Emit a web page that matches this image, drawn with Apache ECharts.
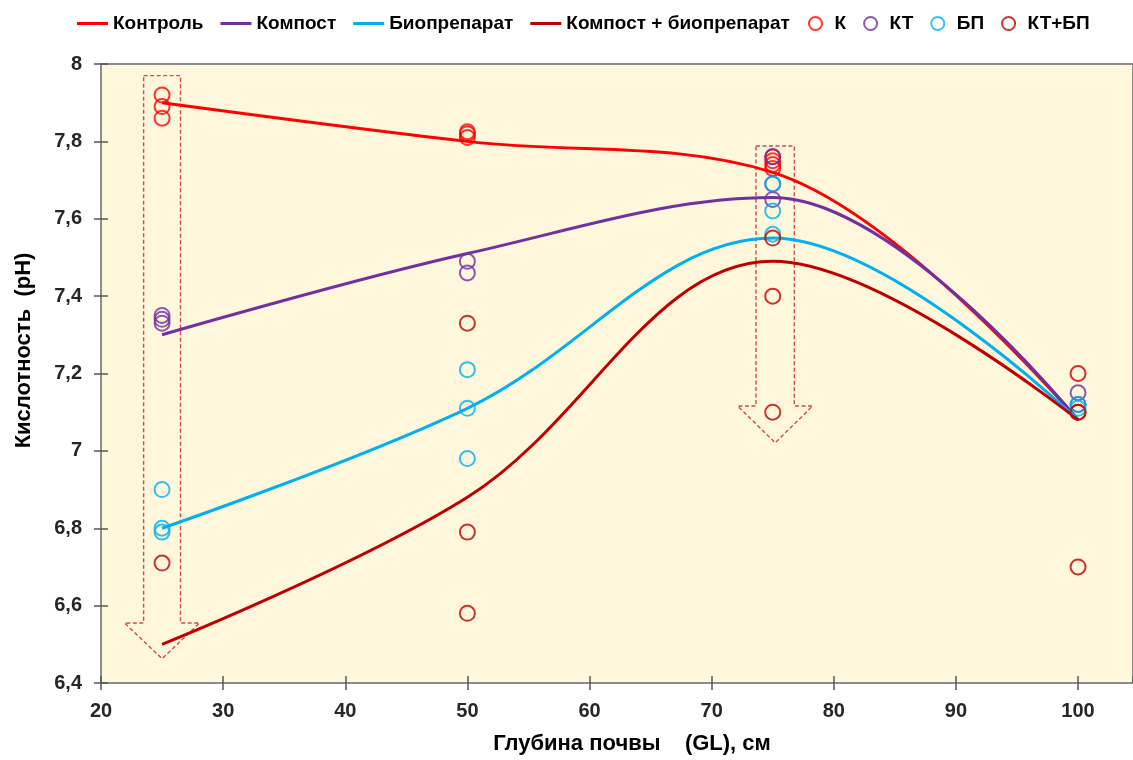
<!DOCTYPE html>
<html>
<head>
<meta charset="utf-8">
<script src="https://cdn.jsdelivr.net/npm/echarts@6/dist/echarts.min.js"></script>
<style>
  html, body { margin: 0; padding: 0; background: #ffffff; }
  #chart { width: 1133px; height: 760px; }
</style>
</head>
<body>
<div id="chart"></div>
<script>
// Soil depth (cm) vs. acidity (pH)
const depths = [25, 50, 75, 100];

// Smoothed trend values for each treatment at the four depths
const controlTrend = [7.90, 7.80, 7.72, 7.08];
const compostTrend = [7.30, 7.51, 7.655, 7.08];
const bioTrend = [6.80, 7.11, 7.55, 7.08];
const compostBioTrend = [6.50, 6.88, 7.49, 7.08];

// Individual measurements: [depth, pH]
const kPoints = [[25, 7.92], [25, 7.89], [25, 7.86], [50, 7.825], [50, 7.82], [50, 7.81],
                 [75, 7.76], [75, 7.75], [75, 7.74], [75, 7.73], [100, 7.10]];
const ktPoints = [[25, 7.35], [25, 7.34], [25, 7.33], [50, 7.49], [50, 7.46],
                  [75, 7.76], [75, 7.69], [75, 7.65], [100, 7.15], [100, 7.12]];
const bpPoints = [[25, 6.90], [25, 6.80], [25, 6.79], [50, 7.21], [50, 7.11], [50, 6.98],
                  [75, 7.69], [75, 7.62], [75, 7.56], [100, 7.12], [100, 7.11]];
const ktbpPoints = [[25, 6.71], [50, 7.33], [50, 6.79], [50, 6.58],
                    [75, 7.55], [75, 7.40], [75, 7.10], [100, 7.20], [100, 7.10], [100, 6.70]];

// Series names
const lineNames = ['Контроль', 'Компост', 'Биопрепарат', 'Компост + биопрепарат'];
const pointNames = ['К', 'КТ', 'БП', 'КТ+БП'];

// Dashed downward arrows: [centre x, top y, head base y, tip y, half shaft width, half head width]
const arrowShapes = [
  [25, 7.97, 6.555, 6.463, 1.51, 3.07],
  [75.2, 7.788, 7.116, 7.021, 1.57, 3.07]
];

const FONT = 'Liberation Sans';
const lineColors = ['#FF0000', '#7030A0', '#00B0F0', '#C00000'];
const pointColors = ['#FF0000', '#7030A0', '#00B0F0', '#C00000'];
const axisGrey = '#8C8C8C';
const tickGrey = '#555555';

const comma = v => String(Math.round(v * 10) / 10).replace('.', ',');

function pair(ys) { return depths.map((d, i) => [d, ys[i]]); }

const trends = [controlTrend, compostTrend, bioTrend, compostBioTrend];
const points = [kPoints, ktPoints, bpPoints, ktbpPoints];

const series = [];

series.push({
  type: 'custom',
  name: 'arrows',
  silent: true,
  z: 1,
  data: arrowShapes,
  renderItem: function (params, api) {
    const x = api.value(0), top = api.value(1), base = api.value(2), tip = api.value(3);
    const hs = api.value(4), hh = api.value(5);
    const pts = [
      api.coord([x - hs, top]), api.coord([x + hs, top]),
      api.coord([x + hs, base]), api.coord([x + hh, base]),
      api.coord([x, tip]), api.coord([x - hh, base]),
      api.coord([x - hs, base])
    ];
    return {
      type: 'polygon',
      shape: { points: pts },
      style: { fill: 'none', stroke: '#D5484A', lineWidth: 1.4, lineDash: [4, 2.5] }
    };
  }
});

lineNames.forEach((n, i) => {
  series.push({
    type: 'line',
    name: n,
    data: pair(trends[i]),
    smooth: 0.37,
    symbol: 'none',
    z: 3,
    lineStyle: { color: lineColors[i], width: 3 },
    itemStyle: { color: lineColors[i] }
  });
});

pointNames.forEach((n, i) => {
  series.push({
    type: 'scatter',
    name: n,
    data: points[i],
    symbol: 'circle',
    symbolSize: 15,
    z: 4,
    itemStyle: { color: 'rgba(0,0,0,0)', borderColor: pointColors[i], borderWidth: 2 }
  });
});

const legendText = { fontFamily: FONT, fontWeight: 'bold', fontSize: 19, color: '#000' };
const labelFont = { fontFamily: FONT, fontWeight: 'bold', fontSize: 20, color: '#262626' };
const titleFont = { fontFamily: FONT, fontWeight: 'bold', fontSize: 22, color: '#000' };

const option = {
  animation: false,
  backgroundColor: '#ffffff',
  textStyle: { fontFamily: FONT },
  legend: [
    {
      // trend lines
      data: lineNames.map((n, i) => ({ name: n, icon: 'rect', itemStyle: { color: lineColors[i], borderWidth: 0 } })),
      top: 9,
      left: 72,
      itemGap: 17,
      itemWidth: 31,
      itemHeight: 3,
      textStyle: legendText
    },
    {
      // measured points
      data: pointNames.map((n, i) => ({
        name: n, icon: 'circle',
        itemStyle: { color: 'rgba(0,0,0,0)', borderColor: pointColors[i], borderWidth: 2 }
      })),
      top: 9,
      left: 803,
      itemGap: 17,
      itemWidth: 28,
      itemHeight: 13,
      textStyle: legendText
    }
  ],
  grid: {
    left: 101, right: -2, top: 64, bottom: 77,
    show: true,
    backgroundColor: '#FFF7DC',
    borderColor: axisGrey,
    borderWidth: 2
  },
  xAxis: [
    {
      type: 'value', min: 20, max: 104.5, interval: 10,
      name: 'Глубина почвы    (GL), см',
      nameLocation: 'middle', nameGap: 50,
      nameTextStyle: Object.assign({ padding: [0, 0, 0, 30] }, titleFont),
      axisLine: { lineStyle: { color: axisGrey, width: 2 } },
      axisTick: { length: 7, lineStyle: { color: tickGrey, width: 1.5 } },
      axisLabel: Object.assign({
        margin: 18, showMaxLabel: false,
        formatter: v => (v > 100 ? '' : String(v))
      }, labelFont),
      splitLine: { show: false }
    },
    {
      type: 'value', min: 20, max: 104.5, interval: 10, position: 'bottom',
      axisLine: { show: false },
      axisTick: { inside: true, length: 7, lineStyle: { color: tickGrey, width: 1.5 } },
      axisLabel: { show: false },
      splitLine: { show: false }
    }
  ],
  yAxis: [
    {
      type: 'value', min: 6.4, max: 8, interval: 0.2,
      name: 'Кислотность  (pH)',
      nameLocation: 'middle', nameGap: 66,
      nameTextStyle: Object.assign({ padding: [0, 0, 0, 46] }, titleFont),
      axisLine: { show: true, lineStyle: { color: axisGrey, width: 2 } },
      axisTick: { show: true, length: 7, lineStyle: { color: tickGrey, width: 1.5 } },
      axisLabel: Object.assign({ margin: 19, formatter: comma }, labelFont),
      splitLine: { show: false }
    },
    {
      type: 'value', min: 6.4, max: 8, interval: 0.2, position: 'left',
      axisLine: { show: false },
      axisTick: { show: true, inside: true, length: 7, lineStyle: { color: tickGrey, width: 1.5 } },
      axisLabel: { show: false },
      splitLine: { show: false }
    }
  ],
  series: series
};

const chart = echarts.init(document.getElementById('chart'), null, { renderer: 'canvas' });
chart.setOption(option);
</script>
</body>
</html>
